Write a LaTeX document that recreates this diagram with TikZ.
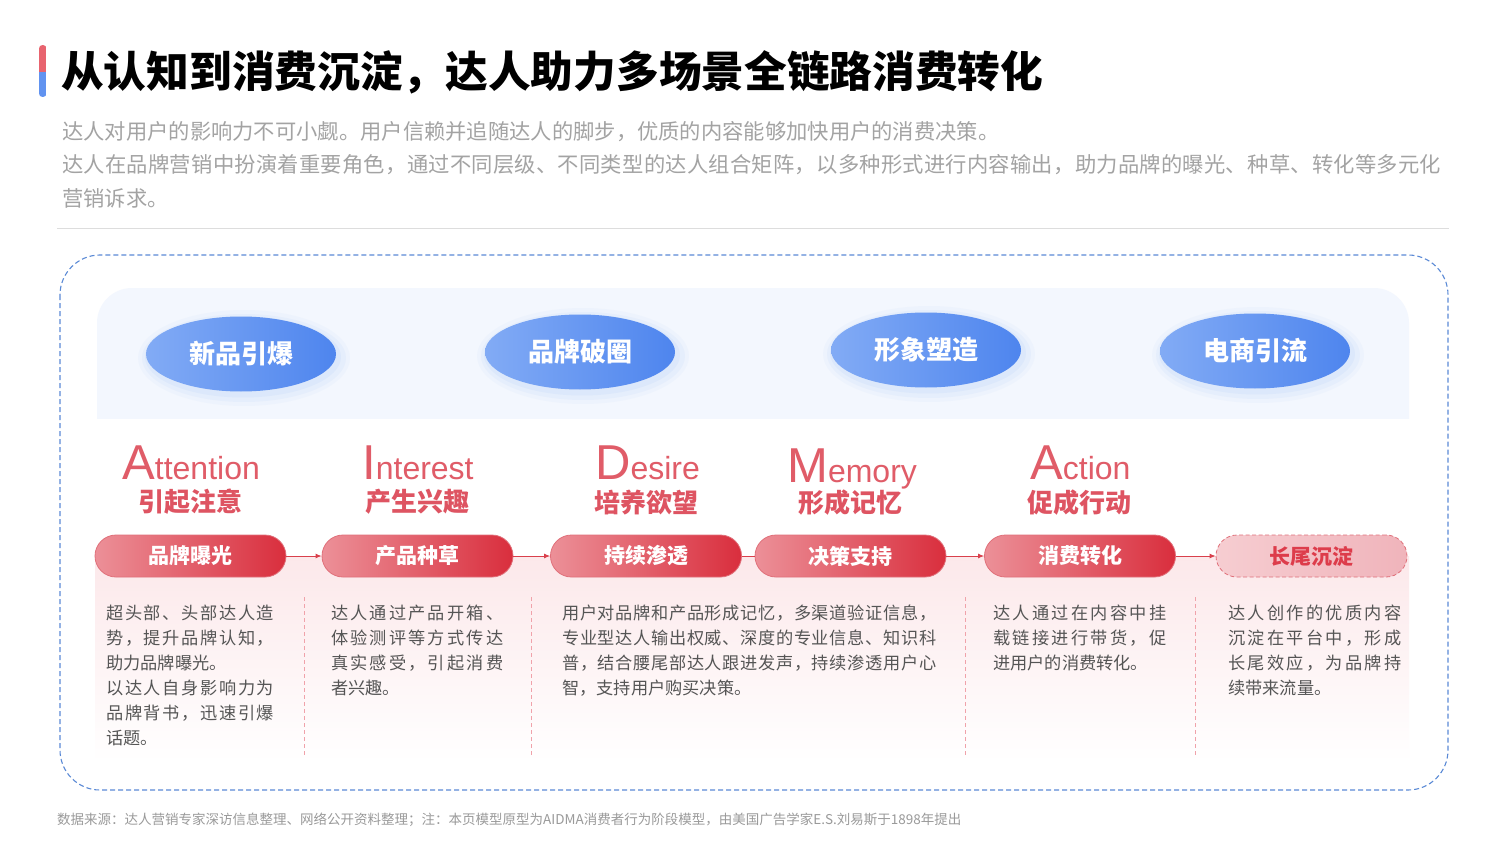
\documentclass[tikz,border=0pt]{standalone}
\usepackage{fontspec}
\setmainfont{Noto Sans CJK SC}
\newfontfamily\latf{Liberation Sans}
\usetikzlibrary{shapes.geometric,arrows.meta}
\definecolor{barred}{HTML}{E8646F}
\definecolor{barblue}{HTML}{6193F0}
\definecolor{subgray}{HTML}{A3A3A3}
\definecolor{sepgray}{HTML}{DDDDDD}
\definecolor{frameblue}{HTML}{5B8AD6}
\definecolor{panelblue}{HTML}{F3F7FE}
\definecolor{elA}{HTML}{82ABF5}
\definecolor{elB}{HTML}{4E85EE}
\definecolor{glow}{HTML}{9DBDF6}
\definecolor{aidma}{HTML}{E05C68}
\definecolor{cnred}{HTML}{DE5462}
\definecolor{pillA}{HTML}{EC9098}
\definecolor{pillB}{HTML}{D92E3D}
\definecolor{pillline}{HTML}{E0707A}
\definecolor{tailA}{HTML}{F6CDD1}
\definecolor{tailB}{HTML}{F0B4BB}
\definecolor{tailtext}{HTML}{DD3C4B}
\definecolor{pinkbg}{HTML}{FCE8EA}
\definecolor{sepred}{HTML}{F0A2AA}
\definecolor{bodygray}{HTML}{555555}
\definecolor{arrred}{HTML}{D9404C}
\definecolor{footgray}{HTML}{9A9A9A}
\def\jspA#1{\ifx#1\relax\else#1\hskip 0pt plus 1fil\expandafter\jspA\fi}
\newcommand\jl[2]{\hbox to #1{\jspA#2\relax\unskip}}
\begin{document}
\begin{tikzpicture}[x=1pt,y=-1pt,
 ellip/.style={ellipse, minimum width=190pt, minimum height=75pt, inner sep=0pt, left color=elA, right color=elB, text=white, font=\fontsize{26}{30}\selectfont\bfseries},
 pill/.style={rectangle, rounded corners=21pt, minimum width=191pt, minimum height=42pt, inner sep=0pt, left color=pillA, right color=pillB, draw=pillline, line width=0.8pt, text=white, font=\fontsize{21}{24}\selectfont\bfseries},
 tail/.style={pill, left color=tailA, right color=tailB, draw=pillline, dash pattern=on 4pt off 2.5pt, text=tailtext},
 word/.style={anchor=base west, inner sep=0pt, text=aidma},
 cnlab/.style={inner sep=0pt, text=cnred, font=\fontsize{26}{30}\selectfont\bfseries},
 body/.style={anchor=base west, inner sep=0pt, align=left, text=bodygray, font=\fontsize{17.2}{25}\selectfont},
 sub/.style={anchor=west, inner sep=0pt, text=subgray, font=\fontsize{21.3}{26}\selectfont},
 arr/.style={draw=arrred, line width=0.9pt, -{Latex[length=6pt,width=5pt]}},
 plainarr/.style={draw=arrred, line width=0.9pt},
 sepdash/.style={draw=sepred, line width=0.8pt, dash pattern=on 4pt off 3pt},
 glowfill/.style={fill=glow, opacity=#1},
]
\useasboundingbox (0,0) rectangle (1511,850);
\fill[white] (0,0) rectangle (1511,850);
% title bar
\begin{scope}
\clip[rounded corners=3.5pt] (39,45) rectangle (46.5,97);
\fill[barred] (39,45) rectangle (46.5,72);
\fill[barblue] (39,72) rectangle (46.5,97);
\end{scope}
\node[anchor=west, inner sep=0pt, font=\fontsize{42.7}{50}\selectfont\bfseries] (title) at (61,72) {从认知到消费沉淀，达人助力多场景全链路消费转化};
\node[sub] (s1) at (62,132) {达人对用户的影响力不可小觑。用户信赖并追随达人的脚步，优质的内容能够加快用户的消费决策。};
\node[sub] (s2) at (62,165) {\jl{1379pt}{达人在品牌营销中扮演着重要角色，通过不同层级、不同类型的达人组合矩阵，以多种形式进行内容输出，助力品牌的曝光、种草、转化等多元化}};
\node[sub] (s3) at (62,198) {营销诉求。};
\draw[sepgray, line width=1pt] (57,229) -- (1449,229);
% frame
\draw[frameblue, line width=1.1pt, dash pattern=on 5pt off 3pt, rounded corners=40pt] (60,255) rectangle (1448,790);
% blue panel
\begin{scope}
\clip (97,288) rectangle (1409,418);
\fill[panelblue, rounded corners=35pt] (97,288) rectangle (1409,470);
\end{scope}
% pink panel
\shade[top color=pinkbg, bottom color=white] (95,556) rectangle (1409,762);
\draw[sepdash] (304,597) -- (304,755);
\draw[sepdash] (531,597) -- (531,755);
\draw[sepdash] (965,597) -- (965,755);
\draw[sepdash] (1195,597) -- (1195,755);
% glows
\foreach \cx/\cy in {241/354, 580/352, 926/350, 1255/351}{
  \fill[glowfill=0.06] (\cx+3,\cy+4) ellipse [x radius=106pt, y radius=48pt];
  \fill[glowfill=0.09] (\cx+3,\cy+4) ellipse [x radius=102pt, y radius=44pt];
  \fill[glowfill=0.12] (\cx+2,\cy+3) ellipse [x radius=98pt, y radius=40.5pt];
}
\node[ellip] (e1) at (241,354) {新品引爆};
\node[ellip] (e2) at (580,352) {品牌破圈};
\node[ellip] (e3) at (926,350) {形象塑造};
\node[ellip] (e4) at (1255,351) {电商引流};
% AIDMA words
\node[word] (wA) at (122,479) {\latf\fontsize{49}{50}\selectfont A\fontsize{32}{33}\selectfont ttention};
\node[word] (wI) at (362,479) {\latf\fontsize{49}{50}\selectfont I\fontsize{32}{33}\selectfont nterest};
\node[word] (wD) at (595,479) {\latf\fontsize{49}{50}\selectfont D\fontsize{32}{33}\selectfont esire};
\node[word] (wM) at (787,482) {\latf\fontsize{49}{50}\selectfont M\fontsize{32}{33}\selectfont emory};
\node[word] (wAc) at (1030,479) {\latf\fontsize{49}{50}\selectfont A\fontsize{32}{33}\selectfont ction};
\node[cnlab] (cA) at (190,502) {引起注意};
\node[cnlab] (cI) at (417,502) {产生兴趣};
\node[cnlab] (cD) at (646,503) {培养欲望};
\node[cnlab] (cM) at (850,503) {形成记忆};
\node[cnlab] (cAc) at (1079,503) {促成行动};
% pills
\node[pill] (p1) at (190.5,556) {品牌曝光};
\node[pill] (p2) at (417.5,556) {产品种草};
\node[pill] (p3) at (646,556) {持续渗透};
\node[pill] (p4) at (850.5,556) {决策支持};
\node[pill] (p5) at (1080,556) {消费转化};
\node[tail] (p6) at (1311.5,556) {长尾沉淀};
\draw[arr] (p1.east) -- (p2.west);
\draw[arr] (p2.east) -- (p3.west);
\draw[plainarr] (p3.east) -- (p4.west);
\draw[arr] (p4.east) -- (p5.west);
\draw[arr] (p5.east) -- (p6.west);
% body texts (anchored at the baseline of the last line)
\node[body] (t1) at (106,744.5) {\jl{168pt}{超头部、头部达人造}\\\jl{168pt}{势，提升品牌认知，}\\助力品牌曝光。\\\jl{168pt}{以达人自身影响力为}\\\jl{168pt}{品牌背书，迅速引爆}\\话题。};
\node[body] (t2) at (331,694.5) {\jl{172pt}{达人通过产品开箱、}\\\jl{172pt}{体验测评等方式传达}\\\jl{172pt}{真实感受，引起消费}\\者兴趣。};
\node[body] (t3) at (562,694.5) {\jl{374pt}{用户对品牌和产品形成记忆，多渠道验证信息，}\\\jl{374pt}{专业型达人输出权威、深度的专业信息、知识科}\\\jl{374pt}{普，结合腰尾部达人跟进发声，持续渗透用户心}\\智，支持用户购买决策。};
\node[body] (t4) at (993,669.5) {\jl{173pt}{达人通过在内容中挂}\\\jl{173pt}{载链接进行带货，促}\\进用户的消费转化。};
\node[body] (t5) at (1228,694.5) {\jl{173pt}{达人创作的优质内容}\\\jl{173pt}{沉淀在平台中，形成}\\\jl{173pt}{长尾效应，为品牌持}\\续带来流量。};
% footer
\node[anchor=west, inner sep=0pt, text=footgray, font=\fontsize{13.5}{15}\selectfont] (foot) at (57,820) {数据来源：达人营销专家深访信息整理、网络公开资料整理；注：本页模型原型为AIDMA消费者行为阶段模型，由美国广告学家E.S.刘易斯于1898年提出};
\end{tikzpicture}
\end{document}
